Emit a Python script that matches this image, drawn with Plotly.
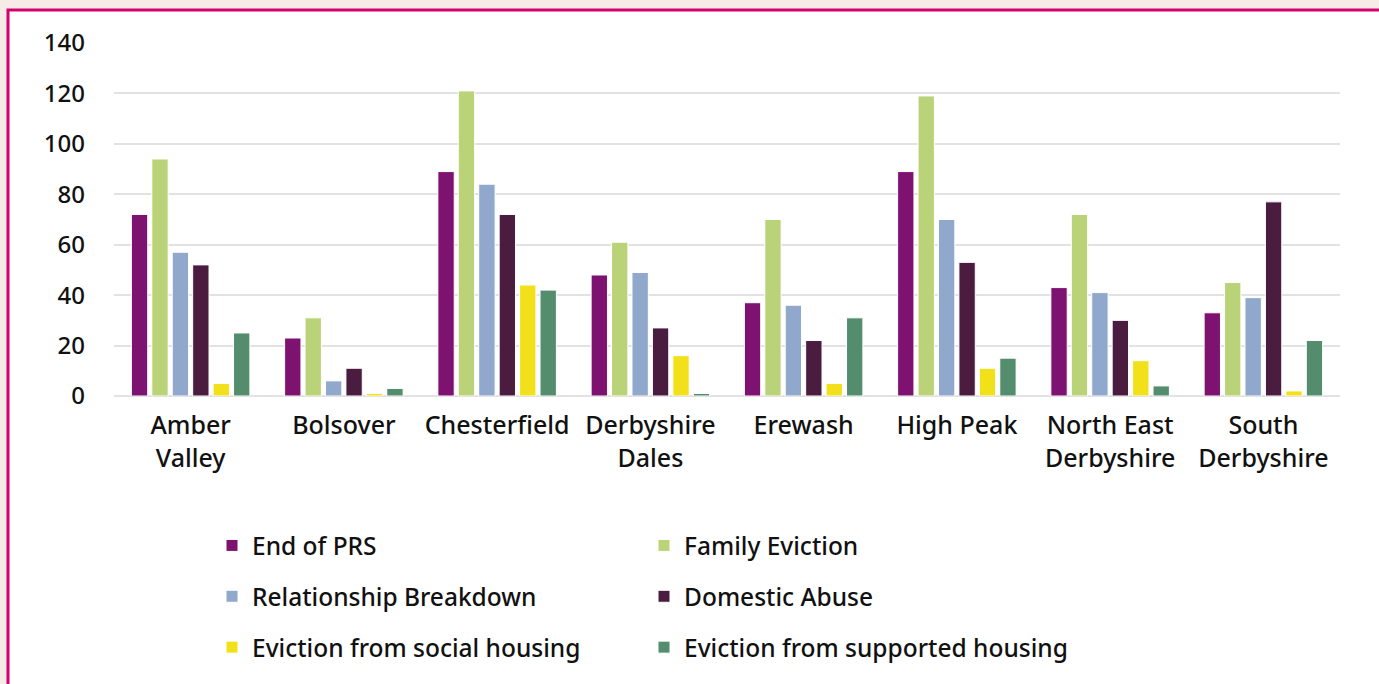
import plotly.graph_objects as go

categories = ["Amber<br>Valley", "Bolsover", "Chesterfield", "Derbyshire<br>Dales",
              "Erewash", "High Peak", "North East<br>Derbyshire", "South<br>Derbyshire"]

end_of_prs = [72, 23, 89, 48, 37, 89, 43, 33]
family_eviction = [94, 31, 121, 61, 70, 119, 72, 45]
relationship_breakdown = [57, 6, 84, 49, 36, 70, 41, 39]
domestic_abuse = [52, 11, 72, 27, 22, 53, 30, 77]
eviction_social = [5, 1, 44, 16, 5, 11, 14, 2]
eviction_supported = [25, 3, 42, 1, 31, 15, 4, 22]

series_names = ["End of PRS", "Family Eviction", "Relationship Breakdown",
                "Domestic Abuse", "Eviction from social housing",
                "Eviction from supported housing"]
series_values = [end_of_prs, family_eviction, relationship_breakdown,
                 domestic_abuse, eviction_social, eviction_supported]
colors = ["#7d1270", "#bad379", "#8fa8cb", "#4a1c40", "#f2e11a", "#548c6e"]
legend_ids = ["legend", "legend2", "legend", "legend2", "legend", "legend2"]

W, H = 1379, 684
ML, MR, MT, MB = 114, 39, 43, 288
PW = W - ML - MR
PH = H - MT - MB

fig = go.Figure()
for i, (name, vals, col, lg) in enumerate(zip(series_names, series_values, colors, legend_ids)):
    fig.add_trace(go.Bar(
        x=categories, y=vals, name=name,
        marker=dict(color=col, line=dict(color="white", width=1)),
        legend=lg, legendgroup=name,
    ))

def px_x(p):
    return (p - ML) / PW

def px_y(p):
    return 1 - (p - MT) / PH

font_family = "Noto Sans, Open Sans, sans-serif"

fig.update_layout(
    width=W, height=H,
    margin=dict(l=ML, r=MR, t=MT, b=MB),
    paper_bgcolor="#f7ebe8",
    plot_bgcolor="rgba(0,0,0,0)",
    barmode="group",
    bargap=0.2,
    bargroupgap=0.2,
    font=dict(family=font_family, color="#111111", size=24, weight=500),
    xaxis=dict(showgrid=False, tickfont=dict(size=25, weight=500), ticks="", showline=False,
               zeroline=False, ticklabelstandoff=12),
    yaxis=dict(range=[0, 140], dtick=20, showgrid=True, gridcolor="#e2e2e2",
               gridwidth=2, zeroline=True, zerolinecolor="#e2e2e2", zerolinewidth=2,
               tickfont=dict(size=24, weight=500), ticks="", ticklabelstandoff=28),
    legend=dict(x=px_x(212), y=px_y(523), xanchor="left", yanchor="top",
                orientation="v", tracegroupgap=16, font=dict(size=24.5, weight=500),
                bgcolor="rgba(0,0,0,0)", itemwidth=30),
    legend2=dict(x=px_x(644), y=px_y(523), xanchor="left", yanchor="top",
                 orientation="v", tracegroupgap=16, font=dict(size=24.5, weight=500),
                 bgcolor="rgba(0,0,0,0)", itemwidth=30),
    shapes=[dict(type="rect", xref="paper", yref="paper", layer="below",
                 x0=px_x(8), x1=px_x(1400), y0=px_y(10), y1=px_y(720),
                 fillcolor="white", line=dict(color="#d4006e", width=3))],
)

fig.write_html("out.html", config={"displayModeBar": False},
               post_script="document.body.style.margin='0';document.body.style.overflow='hidden';")
